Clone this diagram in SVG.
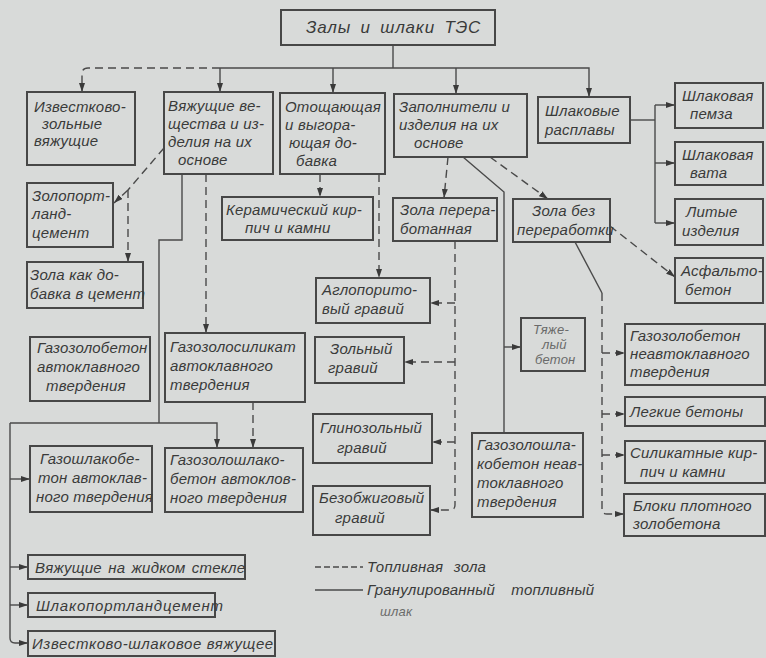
<svg xmlns="http://www.w3.org/2000/svg" width="766" height="658" viewBox="0 0 766 658">
<style>
.bg{fill:#d8dad9}
.b{fill:none;stroke:#474747;stroke-width:2}
.t{font-family:"Liberation Sans","DejaVu Sans",sans-serif;font-style:italic;font-size:15px;fill:#3a3a3a;letter-spacing:0.2px}
.s{fill:none;stroke:#4a4a4a;stroke-width:1.4}
.d{fill:none;stroke:#4a4a4a;stroke-width:1.4;stroke-dasharray:8 5}
.g{font-size:13px;fill:#6a6a6a}
</style>
<defs>
<marker id="a" markerUnits="userSpaceOnUse" markerWidth="9" markerHeight="6" refX="9" refY="3" orient="auto">
<path d="M0,0 L9,3 L0,6 z" fill="#3a3a3a"/>
</marker>
</defs>
<rect class="bg" x="0" y="0" width="766" height="658"/>

<g id="connectors">
<path class="s" d="M393,45 V68"/>
<path class="d" d="M220,68 H88 Q82,68 82,74 V92" marker-end="url(#a)"/>
<path class="s" d="M220,68 H589 V97" marker-end="url(#a)"/>
<path class="s" d="M220,68 V92" marker-end="url(#a)"/>
<path class="s" d="M333,68 V93" marker-end="url(#a)"/>
<path class="s" d="M456,68 V94" marker-end="url(#a)"/>
<path class="s" d="M630,120 H655"/>
<path class="s" d="M655,105 V223"/>
<path class="s" d="M655,105 H675" marker-end="url(#a)"/>
<path class="s" d="M655,163 H675" marker-end="url(#a)"/>
<path class="s" d="M655,223 H675" marker-end="url(#a)"/>
<path class="d" d="M164,148 L128,190"/>
<path class="d" d="M128,190 L114,203" marker-end="url(#a)"/>
<path class="d" d="M128,190 V262" marker-end="url(#a)"/>
<path class="s" d="M182,174 V240 H159 V423"/>
<path class="s" d="M10,423 H217 V448" marker-end="url(#a)"/>
<path class="s" d="M10,423 V638 Q10,643 15,643 H28" marker-end="url(#a)"/>
<path class="s" d="M10,479 H30" marker-end="url(#a)"/>
<path class="s" d="M10,567 H28" marker-end="url(#a)"/>
<path class="s" d="M10,605 H28" marker-end="url(#a)"/>
<path class="d" d="M206,174 V333" marker-end="url(#a)"/>
<path class="d" d="M253,402 V448" marker-end="url(#a)"/>
<path class="d" d="M320,174 V197" marker-end="url(#a)"/>
<path class="d" d="M379,174 V278" marker-end="url(#a)"/>
<path class="d" d="M448,157 L444,198" marker-end="url(#a)"/>
<path class="d" d="M455,241 V505 Q455,510 450,510 H430" marker-end="url(#a)"/>
<path class="d" d="M455,303 H430" marker-end="url(#a)"/>
<path class="d" d="M455,362 H404" marker-end="url(#a)"/>
<path class="d" d="M455,442 H432" marker-end="url(#a)"/>
<path class="s" d="M463,157 L504,192 V433"/>
<path class="s" d="M504,347 H521" marker-end="url(#a)"/>
<path class="d" d="M490,157 L548,199" marker-end="url(#a)"/>
<path class="d" d="M610,226 L675,277" marker-end="url(#a)"/>
<path class="s" d="M575,242 L602,293"/>
<path class="d" d="M602,293 V509 Q602,514 607,514 H624" marker-end="url(#a)"/>
<path class="d" d="M602,353 H625" marker-end="url(#a)"/>
<path class="d" d="M602,414 H625" marker-end="url(#a)"/>
<path class="d" d="M602,455 H625" marker-end="url(#a)"/>
</g>

<g id="n-top"><rect class="b" x="281" y="10" width="214" height="35"/><text class="t" x="306" y="33" style="font-size:17px;word-spacing:4px;letter-spacing:0.8px">Залы и шлаки ТЭС</text></g>
<g id="n-izv"><rect class="b" x="27" y="92" width="108" height="73"/><text class="t" x="34" y="112">Известково-</text><text class="t" x="42" y="129">зольные</text><text class="t" x="34" y="146">вяжущие</text></g>
<g id="n-vyazh"><rect class="b" x="164" y="92" width="109" height="82"/><text class="t" x="168" y="111">Вяжущие ве-</text><text class="t" x="168" y="129">щества и из-</text><text class="t" x="168" y="147">делия на их</text><text class="t" x="178" y="165">основе</text></g>
<g id="n-otosh"><rect class="b" x="280" y="93" width="105" height="81"/><text class="t" x="285" y="112">Отощающая</text><text class="t" x="285" y="130">и выгора-</text><text class="t" x="289" y="148">ющая до-</text><text class="t" x="296" y="166">бавка</text></g>
<g id="n-zapoln"><rect class="b" x="394" y="94" width="133" height="63"/><text class="t" x="399" y="112">Заполнители и</text><text class="t" x="399" y="130">изделия на их</text><text class="t" x="414" y="148">основе</text></g>
<g id="n-rasplav"><rect class="b" x="538" y="97" width="92" height="46"/><text class="t" x="545" y="116">Шлаковые</text><text class="t" x="545" y="135">расплавы</text></g>
<g id="n-pemza"><rect class="b" x="675" y="83" width="88" height="45"/><text class="t" x="682" y="101">Шлаковая</text><text class="t" x="690" y="119">пемза</text></g>
<g id="n-vata"><rect class="b" x="675" y="142" width="88" height="43"/><text class="t" x="682" y="160">Шлаковая</text><text class="t" x="690" y="178">вата</text></g>
<g id="n-litye"><rect class="b" x="675" y="199" width="88" height="46"/><text class="t" x="686" y="217">Литые</text><text class="t" x="682" y="236">изделия</text></g>
<g id="n-asfalt"><rect class="b" x="675" y="258" width="88" height="45"/><text class="t" x="681" y="276">Асфальто-</text><text class="t" x="685" y="295">бетон</text></g>
<g id="n-zpc"><rect class="b" x="27" y="183" width="86" height="64"/><text class="t" x="32" y="201">Золопорт-</text><text class="t" x="32" y="219">ланд-</text><text class="t" x="32" y="238">цемент</text></g>
<g id="n-zkd"><rect class="b" x="27" y="262" width="116" height="46"/><text class="t" x="30" y="280">Зола как до-</text><text class="t" x="30" y="299">бавка в цемент</text></g>
<g id="n-keram"><rect class="b" x="222" y="197" width="151" height="43"/><text class="t" x="226" y="215">Керамический кир-</text><text class="t" x="245" y="233">пич и камни</text></g>
<g id="n-zper"><rect class="b" x="393" y="198" width="104" height="43"/><text class="t" x="400" y="215">Зола перера-</text><text class="t" x="400" y="234">ботанная</text></g>
<g id="n-zbez"><rect class="b" x="513" y="199" width="97" height="43"/><text class="t" x="532" y="216">Зола без</text><text class="t" x="517" y="235">переработки</text></g>
<g id="n-aglo"><rect class="b" x="316" y="278" width="114" height="45"/><text class="t" x="322" y="295">Аглопорито-</text><text class="t" x="322" y="314">вый гравий</text></g>
<g id="n-gzb-a"><rect class="b" x="30" y="337" width="120" height="64"/><text class="t" x="37" y="353">Газозолобетон</text><text class="t" x="37" y="372">автоклавного</text><text class="t" x="46" y="391">твердения</text></g>
<g id="n-gzs"><rect class="b" x="165" y="333" width="140" height="69"/><text class="t" x="170" y="352">Газозолосиликат</text><text class="t" x="170" y="371">автоклавного</text><text class="t" x="170" y="390">твердения</text></g>
<g id="n-zolgr"><rect class="b" x="315" y="337" width="89" height="46"/><text class="t" x="330" y="354">Зольный</text><text class="t" x="328" y="373">гравий</text></g>
<g id="n-tyazh"><rect class="b" x="521" y="318" width="64" height="53"/><text class="t g" x="533" y="334">Тяже-</text><text class="t g" x="542" y="349">лый</text><text class="t g" x="535" y="364">бетон</text></g>
<g id="n-gzb-n"><rect class="b" x="625" y="324" width="140" height="61"/><text class="t" x="630" y="341">Газозолобетон</text><text class="t" x="630" y="359">неавтоклавного</text><text class="t" x="630" y="377">твердения</text></g>
<g id="n-legk"><rect class="b" x="625" y="397" width="140" height="29"/><text class="t" x="630" y="417">Легкие бетоны</text></g>
<g id="n-glin"><rect class="b" x="313" y="414" width="119" height="49"/><text class="t" x="320" y="433">Глинозольный</text><text class="t" x="337" y="453">гравий</text></g>
<g id="n-gshb"><rect class="b" x="30" y="446" width="122" height="66"/><text class="t" x="40" y="464">Газошлакобе-</text><text class="t" x="38" y="483">тон автоклав-</text><text class="t" x="36" y="502">ного твердения</text></g>
<g id="n-gzshb-a"><rect class="b" x="165" y="448" width="138" height="64"/><text class="t" x="170" y="465">Газозолошлако-</text><text class="t" x="170" y="484">бетон автоклов-</text><text class="t" x="170" y="503">ного твердения</text></g>
<g id="n-gzshb-n"><rect class="b" x="472" y="433" width="111" height="84"/><text class="t" x="477" y="450">Газозолошла-</text><text class="t" x="477" y="469">кобетон неав-</text><text class="t" x="477" y="488">токлавного</text><text class="t" x="477" y="507">твердения</text></g>
<g id="n-silik"><rect class="b" x="625" y="441" width="140" height="42"/><text class="t" x="630" y="458">Силикатные кир-</text><text class="t" x="640" y="477">пич и камни</text></g>
<g id="n-bezobzh"><rect class="b" x="313" y="486" width="117" height="49"/><text class="t" x="319" y="503">Безобжиговый</text><text class="t" x="335" y="523">гравий</text></g>
<g id="n-bloki"><rect class="b" x="624" y="494" width="141" height="42"/><text class="t" x="633" y="511">Блоки плотного</text><text class="t" x="633" y="529">золобетона</text></g>
<g id="n-steklo"><rect class="b" x="28" y="555" width="217" height="24"/><text class="t" x="35" y="573" style="word-spacing:2px">Вяжущие на жидком стекле</text></g>
<g id="n-shpc"><rect class="b" x="28" y="593" width="187" height="24"/><text class="t" x="36" y="611" style="letter-spacing:0.8px">Шлакопортландцемент</text></g>
<g id="n-izvshl"><rect class="b" x="28" y="631" width="247" height="25"/><text class="t" x="32" y="649" style="letter-spacing:0.6px">Известково-шлаковое вяжущее</text></g>

<g id="legend">
<path class="d" d="M315,567 H363" style="stroke-dasharray:6 3"/>
<path class="s" d="M315,590 H363"/>
<text class="t" x="367" y="572" style="word-spacing:6px">Топливная зола</text>
<text class="t" x="367" y="595" style="word-spacing:12px">Гранулированный топливный</text>
<text class="t g" x="380" y="616">шлак</text>
</g>
</svg>
